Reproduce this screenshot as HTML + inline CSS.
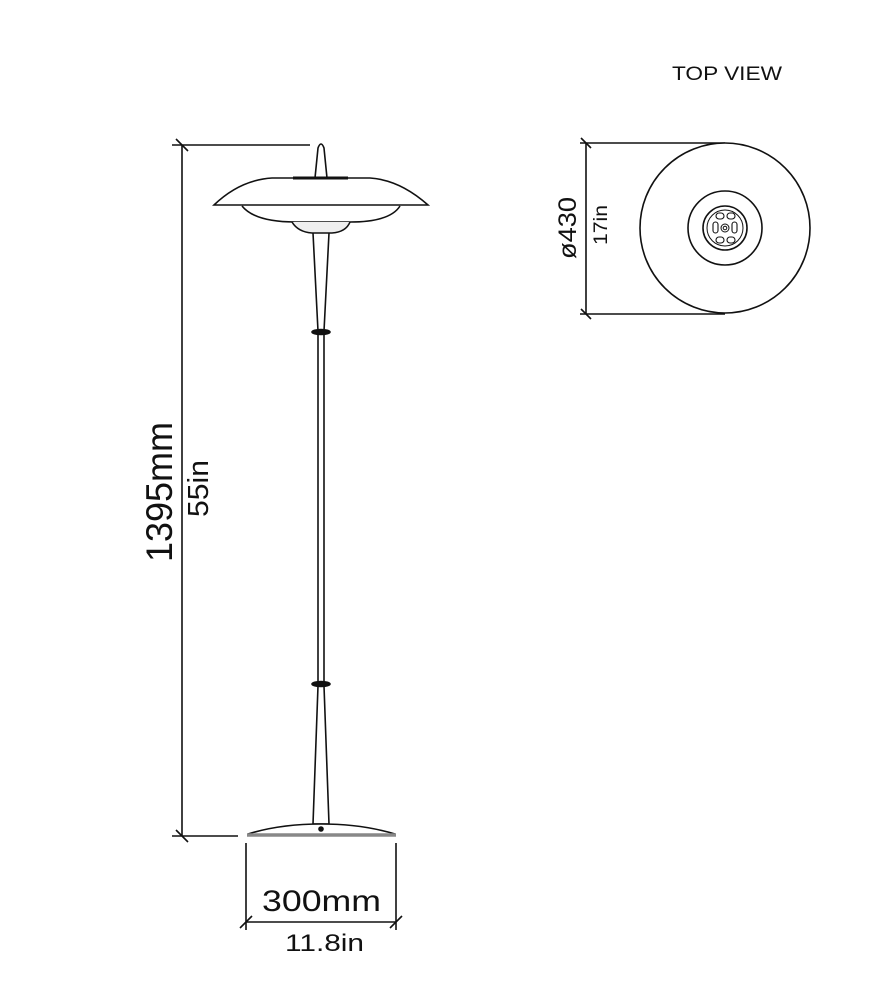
<!DOCTYPE html>
<html><head><meta charset="utf-8"><style>
html,body{margin:0;padding:0;background:#fff;}
svg{display:block;}
text{font-family:"Liberation Sans",sans-serif;fill:#111;}
</style></head><body>
<svg width="888" height="1000" viewBox="0 0 888 1000" xmlns="http://www.w3.org/2000/svg">
<g stroke="#111" stroke-width="1.6" fill="none">
<line x1="182" y1="145" x2="182" y2="836"/>
<line x1="172" y1="145" x2="310" y2="145"/>
<line x1="172" y1="836" x2="238" y2="836"/>
<line x1="176" y1="139" x2="188" y2="151"/>
<line x1="176" y1="830" x2="188" y2="842"/>
<path d="M315,178 L318,148 Q321,140 324,148 L327,178"/>
<path d="M214,205 Q240,180 272,178 L370,178 Q400,180 428,205 Z" fill="#fff"/>
<line x1="293" y1="178" x2="348" y2="178" stroke-width="3"/>
<path d="M242,206 Q255,222 295,222 L350,222 Q390,222 400,206"/>
<path d="M292,222 Q298,232 312,233 L332,233 Q346,232 350,222" fill="#eee"/>
<path d="M313,233 L318,331 M329,233 L324,331"/>
<ellipse cx="321" cy="332" rx="9" ry="2.5" fill="#111"/>
<line x1="318" y1="334" x2="318" y2="682"/>
<line x1="324" y1="334" x2="324" y2="682"/>
<ellipse cx="321" cy="684" rx="9" ry="2.5" fill="#111"/>
<path d="M318,686 L313,824 M324,686 L329,824"/>
<line x1="313" y1="824" x2="329" y2="824"/>
<path d="M248,834 Q280,824 321,824 Q362,824 395,834" fill="#fff"/>
<line x1="247" y1="835" x2="396" y2="835" stroke="#888" stroke-width="3.5"/>
<circle cx="321" cy="829" r="2.8" fill="#111" stroke="none"/>
<line x1="246" y1="843" x2="246" y2="930"/>
<line x1="396" y1="843" x2="396" y2="930"/>
<line x1="246" y1="922" x2="396" y2="922"/>
<line x1="240" y1="928" x2="252" y2="916"/>
<line x1="390" y1="928" x2="402" y2="916"/>
<line x1="580" y1="143" x2="725" y2="143"/>
<line x1="580" y1="314" x2="725" y2="314"/>
<line x1="586" y1="143" x2="586" y2="314"/>
<line x1="581" y1="138" x2="591" y2="148"/>
<line x1="581" y1="309" x2="591" y2="319"/>
<circle cx="725" cy="228" r="85" fill="#fff"/>
<circle cx="725" cy="228" r="37"/>
<circle cx="725" cy="228" r="22"/>
<circle cx="725" cy="228" r="18" stroke-width="1"/>
<circle cx="725" cy="228" r="4" stroke-width="1"/>
<circle cx="725" cy="228" r="1.8" stroke-width="1"/>
<g stroke-width="1.1">
<rect x="713" y="222" width="5" height="11" rx="2.5"/>
<rect x="732" y="222" width="5" height="11" rx="2.5"/>
<rect x="716" y="213" width="8" height="6" rx="3"/>
<rect x="727" y="213" width="8" height="6" rx="3"/>
<rect x="716" y="237" width="8" height="6" rx="3"/>
<rect x="727" y="237" width="8" height="6" rx="3"/>
</g>
</g>
<text x="672" y="80" font-size="19" textLength="110" lengthAdjust="spacingAndGlyphs">TOP VIEW</text>
<text x="262" y="911" font-size="30" textLength="119" lengthAdjust="spacingAndGlyphs">300mm</text>
<text x="285" y="951" font-size="24" textLength="79" lengthAdjust="spacingAndGlyphs">11.8in</text>
<text transform="translate(172,562) rotate(-90)" font-size="37" textLength="140" lengthAdjust="spacingAndGlyphs">1395mm</text>
<text transform="translate(208,517) rotate(-90)" font-size="29" textLength="57" lengthAdjust="spacingAndGlyphs">55in</text>
<text transform="translate(576,259) rotate(-90)" font-size="25" textLength="62" lengthAdjust="spacingAndGlyphs">ø430</text>
<text transform="translate(607,245) rotate(-90)" font-size="19" textLength="40" lengthAdjust="spacingAndGlyphs">17in</text>
</svg>
</body></html>
